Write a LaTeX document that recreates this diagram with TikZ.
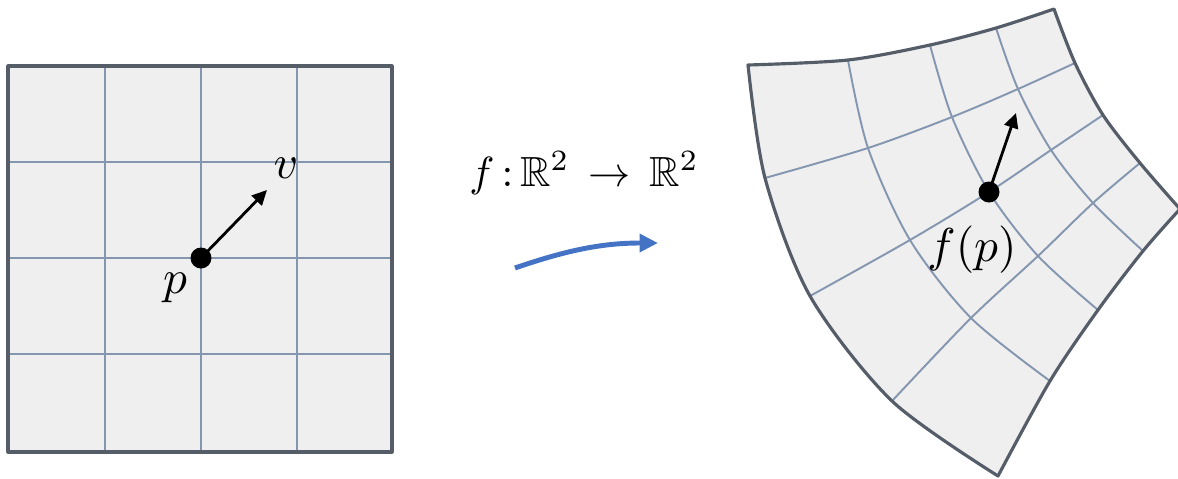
\documentclass[tikz,border=0pt]{standalone}
\usepackage{amssymb}
\usetikzlibrary{arrows.meta}

\definecolor{sheetfill}{HTML}{EFEFEF}
\definecolor{gridblue}{HTML}{8496B0}
\definecolor{edgegray}{HTML}{555D69}
\definecolor{flowblue}{HTML}{4472C4}

\begin{document}
\begin{tikzpicture}[
x=0.02cm, y=-0.02cm,
sheet/.style={fill=sheetfill},
gridline/.style={draw=gridblue, line width=1.1pt},
border/.style={draw=edgegray, line width=1.8pt, line join=round},
dot/.style={circle, fill=black, inner sep=0pt, minimum size=0.42cm},
vec/.style={line width=1.6pt, -{Triangle[length=8.5pt, width=8pt]}},
flow/.style={draw=flowblue, line width=2.8pt, -{Triangle[length=10.5pt, width=10pt]}},
lbl/.style={scale=2.7},
maplabel/.style={scale=2.4, anchor=base}
]
\useasboundingbox (0,0) rectangle (1178,478);

% flat grid
\fill[sheet] (8,66) rectangle (392,452);
\foreach \x in {105,201,297}
    \draw[gridline] (\x,66) -- (\x,452);
\foreach \y in {162,258,354}
    \draw[gridline] (8,\y) -- (392,\y);
\draw[border] (8,66) rectangle (392,452);

\node[dot] (p) at (201,258) {};
\coordinate (vtip) at (267,190);
\draw[vec] (p.center) -- (vtip);
\node[lbl] (plabel) at (175,288) {$p$};
\node[lbl] (vlabel) at (286,168) {$v$};

% the map
\node[maplabel] (map) at (584,186) {$f\,{:}\,\mathbb{R}^{2}\,\to\,\mathbb{R}^{2}$};
\coordinate (flowstart) at (515,268);
\coordinate (flowend) at (658,243);
\draw[flow] (flowstart) .. controls (570,249) and (605,243) .. (flowend);

% warped grid
\fill[sheet] plot[smooth] coordinates {(748,65) (848,60) (930,45) (996,28) (1054,9)}
    -- plot[smooth] coordinates {(1054,9) (1075,63) (1103,115) (1140,163) (1180,209)}
    -- plot[smooth] coordinates {(1180,209) (1143,251) (1098,310) (1050,381) (998,476)}
    -- plot[smooth] coordinates {(998,476) (892,401) (810,296) (765,178) (748,65)} -- cycle;
\draw[gridline] plot[smooth] coordinates {(765,178) (868,148) (952,117) (1018,89) (1075,63)};
\draw[gridline] plot[smooth] coordinates {(810,296) (910,240) (989,192) (1051,150) (1103,115)};
\draw[gridline] plot[smooth] coordinates {(892,401) (971,318) (1038,256) (1093,203) (1140,163)};
\draw[gridline] plot[smooth] coordinates {(848,60) (868,148) (910,240) (971,318) (1050,381)};
\draw[gridline] plot[smooth] coordinates {(930,45) (952,117) (989,192) (1038,256) (1098,310)};
\draw[gridline] plot[smooth] coordinates {(996,28) (1018,89) (1051,150) (1093,203) (1143,251)};
\draw[border] plot[smooth] coordinates {(748,65) (848,60) (930,45) (996,28) (1054,9)}
    -- plot[smooth] coordinates {(1054,9) (1075,63) (1103,115) (1140,163) (1180,209)}
    -- plot[smooth] coordinates {(1180,209) (1143,251) (1098,310) (1050,381) (998,476)}
    -- plot[smooth] coordinates {(998,476) (892,401) (810,296) (765,178) (748,65)} -- cycle;

\node[dot] (fp) at (989,192) {};
\coordinate (fvtip) at (1016,113);
\draw[vec] (fp.center) -- (fvtip);
\node[lbl] (fplabel) at (972,250) {$f(p)$};

\end{tikzpicture}
\end{document}
